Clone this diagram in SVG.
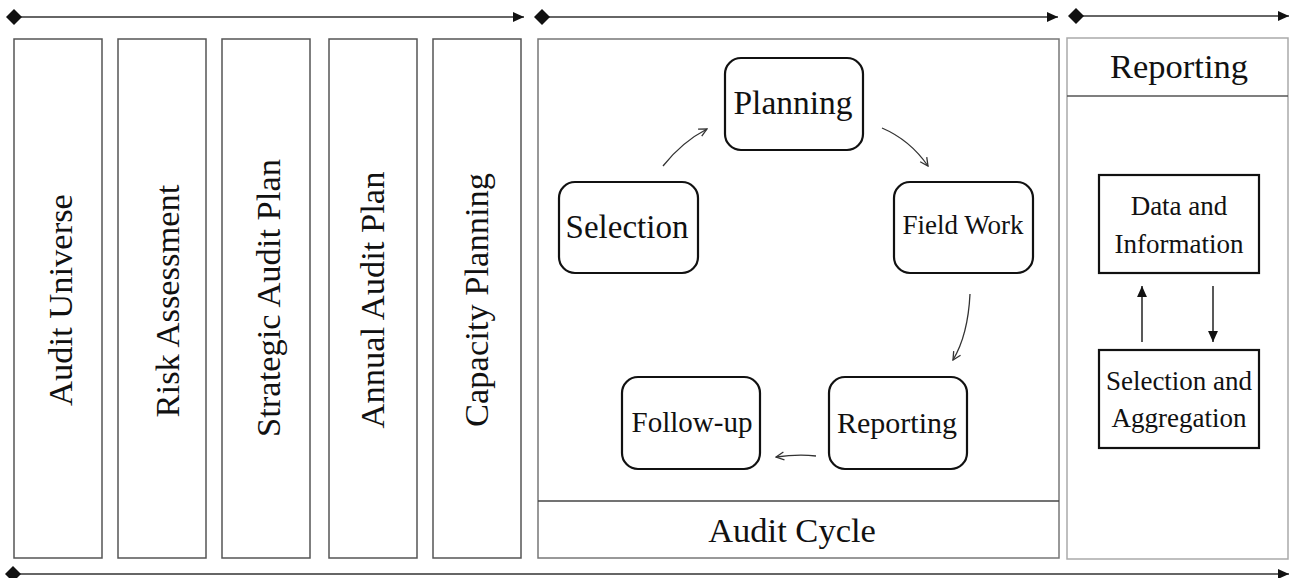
<svg xmlns="http://www.w3.org/2000/svg" width="1289" height="578" viewBox="0 0 1289 578">
<style>
text{font-family:"Liberation Serif","Times New Roman",serif;fill:#111}
.col{fill:#fff;stroke:#555;stroke-width:1.5}
.panel{fill:#fff;stroke:#777;stroke-width:1.5}
.rpanel{fill:#fff;stroke:#aaa;stroke-width:1.5}
.rbox{fill:#fff;stroke:#111;stroke-width:2.2}
.sbox{fill:#fff;stroke:#111;stroke-width:2.2}
.tl{stroke:#333;stroke-width:1.5;fill:none}
.cur{stroke:#333;stroke-width:1.3;fill:none;marker-end:url(#open)}
.vt{font-size:34.5px;text-anchor:middle}
</style>
<defs>
<marker id="fill" viewBox="0 0 10 10" refX="10" refY="5" markerWidth="11" markerHeight="11" markerUnits="userSpaceOnUse" orient="auto"><path d="M0,0.5 L10,5 L0,9.5 Z" fill="#111"/></marker>
<marker id="open" viewBox="0 0 10 10" refX="9" refY="5" markerWidth="10" markerHeight="10" markerUnits="userSpaceOnUse" orient="auto"><path d="M1,1 L9,5 L1,9" fill="none" stroke="#333" stroke-width="1.3"/></marker>
<marker id="dia" viewBox="0 0 16 16" refX="8" refY="8" markerWidth="16" markerHeight="16" markerUnits="userSpaceOnUse" orient="auto"><path d="M0,8 L8,0 L16,8 L8,16 Z" fill="#111"/></marker>
</defs>

<g id="timeline">
<path class="tl" d="M14,17 L524,17" marker-start="url(#dia)" marker-end="url(#fill)"/>
<path class="tl" d="M542,17 L1058,17" marker-start="url(#dia)" marker-end="url(#fill)"/>
<path class="tl" d="M1076,16 L1289,16" marker-start="url(#dia)" marker-end="url(#fill)"/>
<path class="tl" d="M13,574 L1289,574" marker-start="url(#dia)" marker-end="url(#fill)"/>
</g>

<g id="audit-universe"><rect class="col" x="14" y="39" width="88" height="519"/><text class="vt" transform="translate(72,300) rotate(-90)">Audit Universe</text></g>
<g id="risk-assessment"><rect class="col" x="118" y="39" width="88" height="519"/><text class="vt" transform="translate(179,301) rotate(-90)">Risk Assessment</text></g>
<g id="strategic-audit-plan"><rect class="col" x="222" y="39" width="88" height="519"/><text class="vt" transform="translate(280,298) rotate(-90)">Strategic Audit Plan</text></g>
<g id="annual-audit-plan"><rect class="col" x="329" y="39" width="88" height="519"/><text class="vt" transform="translate(384,300) rotate(-90)">Annual Audit Plan</text></g>
<g id="capacity-planning"><rect class="col" x="433" y="39" width="88" height="519"/><text class="vt" transform="translate(488,300) rotate(-90)">Capacity Planning</text></g>

<g id="audit-cycle-panel">
<rect class="panel" x="538" y="39" width="521" height="519"/>
<line x1="538" y1="501" x2="1059" y2="501" stroke="#444" stroke-width="1.5"/>
<text x="792" y="542" font-size="34.5" text-anchor="middle">Audit Cycle</text>
</g>

<g id="planning"><rect class="rbox" x="725" y="58" width="138" height="92" rx="16"/><text x="793" y="114" font-size="33.5" text-anchor="middle">Planning</text></g>
<g id="selection"><rect class="rbox" x="559" y="182" width="139" height="91" rx="16"/><text x="627" y="238" font-size="33" text-anchor="middle">Selection</text></g>
<g id="field-work"><rect class="rbox" x="894" y="182" width="139" height="91" rx="16"/><text x="963" y="234" font-size="27" text-anchor="middle">Field Work</text></g>
<g id="reporting-cycle"><rect class="rbox" x="829" y="377" width="138" height="92" rx="16"/><text x="897" y="433" font-size="30" text-anchor="middle">Reporting</text></g>
<g id="follow-up"><rect class="rbox" x="622" y="377" width="138" height="92" rx="16"/><text x="692" y="432" font-size="29" text-anchor="middle">Follow-up</text></g>

<g id="reporting-panel">
<rect class="rpanel" x="1067" y="38" width="221" height="521"/>
<line x1="1067" y1="96" x2="1288" y2="96" stroke="#555" stroke-width="1.5"/>
<text x="1179" y="78" font-size="34.5" text-anchor="middle">Reporting</text>
</g>
<g id="data-information"><rect class="sbox" x="1099" y="175" width="160" height="98"/><text x="1179" y="215" font-size="27" text-anchor="middle">Data and</text><text x="1179" y="253" font-size="27" text-anchor="middle">Information</text></g>
<g id="selection-aggregation"><rect class="sbox" x="1099" y="350" width="160" height="98"/><text x="1179" y="390" font-size="27" text-anchor="middle">Selection and</text><text x="1179" y="427" font-size="27" text-anchor="middle">Aggregation</text></g>

<g id="connectors">
<path class="cur" d="M663,166 Q682,142 707,129"/>
<path class="cur" d="M882,128 Q910,140 928,166"/>
<path class="cur" d="M970,294 Q968,335 953,360"/>
<path class="cur" d="M816,456 Q798,454 776,457"/>
<path d="M1142,342 L1142,286" stroke="#222" stroke-width="1.5" marker-end="url(#fill)"/>
<path d="M1213,286 L1213,342" stroke="#222" stroke-width="1.5" marker-end="url(#fill)"/>
</g>
</svg>
